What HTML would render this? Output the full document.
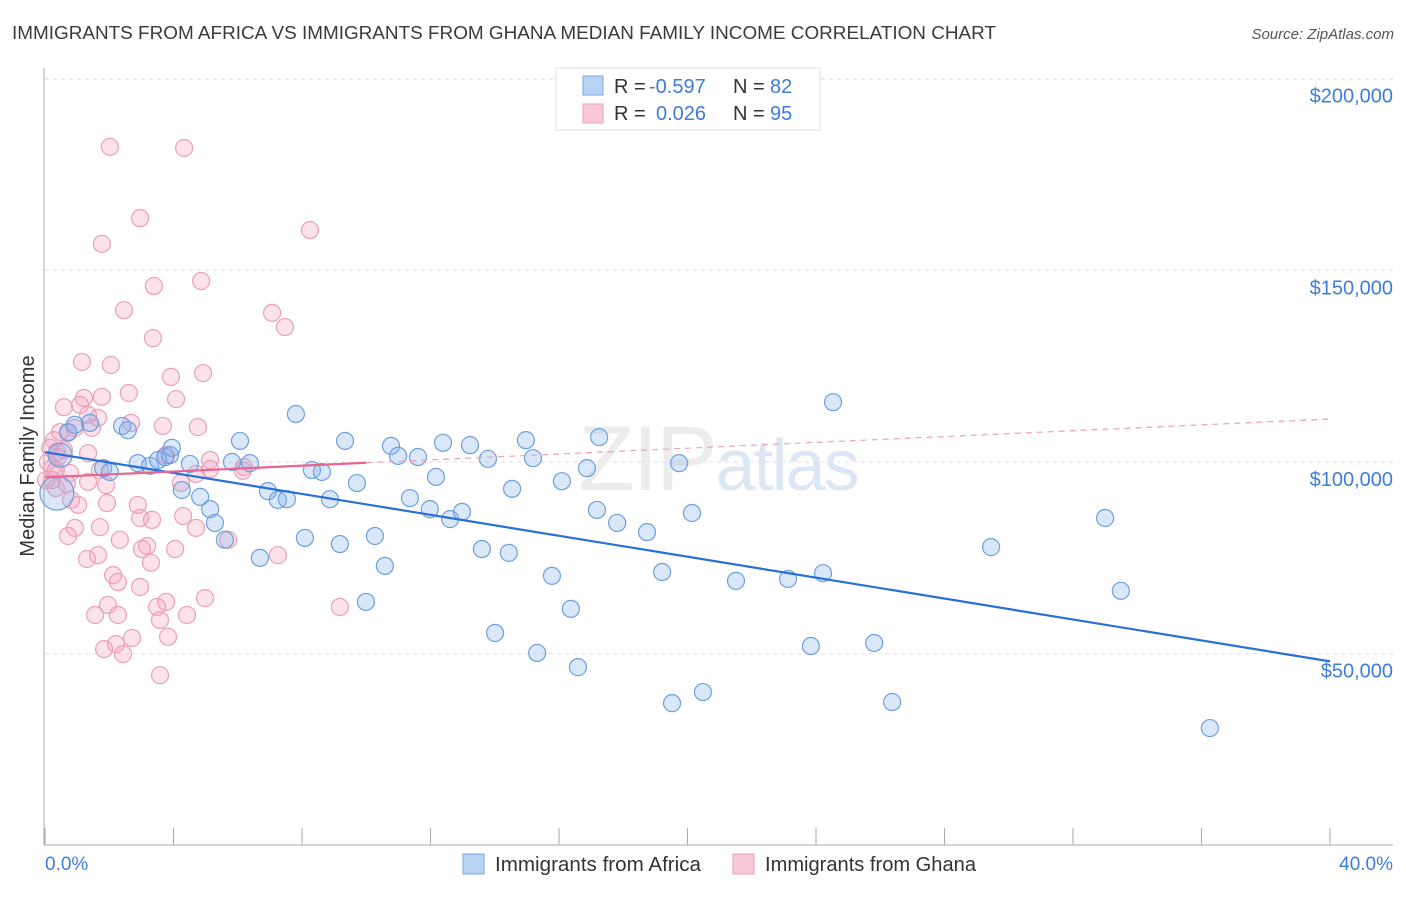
<!DOCTYPE html>
<html><head><meta charset="utf-8"><style>
body{margin:0;background:#fff;font-family:"Liberation Sans",sans-serif;}
svg text{font-family:"Liberation Sans",sans-serif;}
</style></head><body>
<svg id="chart" width="1406" height="892" xmlns="http://www.w3.org/2000/svg">
<text x="12" y="39" font-size="18" fill="#3a3a3a" textLength="984" lengthAdjust="spacingAndGlyphs">IMMIGRANTS FROM AFRICA VS IMMIGRANTS FROM GHANA MEDIAN FAMILY INCOME CORRELATION CHART</text>
<text x="1394" y="39" font-size="15" font-style="italic" fill="#555" text-anchor="end">Source: ZipAtlas.com</text>
<text transform="translate(34,456) rotate(-90)" font-size="20" fill="#333" text-anchor="middle">Median Family Income</text>
<g id="grid"></g>
<text x="718" y="490" font-size="92" fill="#ececec" text-anchor="middle" font-family="Liberation Serif" letter-spacing="-2">ZIP<tspan fill="#dce7f5" font-family="Liberation Sans" font-size="72">atlas</tspan></text>
<g id="axes"></g>
<g id="pts"></g>
<g id="trends"></g>
<g>
<rect x="556" y="68" width="264" height="62" fill="#fff" stroke="#ddd"/>
<rect x="583" y="76" width="20" height="19" fill="#b8d2f4" stroke="#7aa7e0"/>
<rect x="583" y="104" width="20" height="19" fill="#f9c8d7" stroke="#eaa0b8"/>
<text x="614" y="93" font-size="20" fill="#333">R =</text>
<text x="649" y="93" font-size="20" fill="#3d7dd8">-0.597</text>
<text x="733" y="93" font-size="20" fill="#333">N =</text>
<text x="770" y="93" font-size="20" fill="#3d7dd8">82</text>
<text x="614" y="120" font-size="20" fill="#333">R =</text>
<text x="656" y="120" font-size="20" fill="#3d7dd8">0.026</text>
<text x="733" y="120" font-size="20" fill="#333">N =</text>
<text x="770" y="120" font-size="20" fill="#3d7dd8">95</text>
</g>
<g>
<rect x="463" y="854" width="21" height="20" fill="#b8d2f4" stroke="#7aa7e0"/>
<text x="495" y="871" font-size="20" fill="#333" textLength="206" lengthAdjust="spacingAndGlyphs">Immigrants from Africa</text>
<rect x="733" y="854" width="21" height="20" fill="#f9c8d7" stroke="#eaa0b8"/>
<text x="765" y="871" font-size="20" fill="#333" textLength="211" lengthAdjust="spacingAndGlyphs">Immigrants from Ghana</text>
</g>
</svg>
<script>
const yTicks=[50000,100000,150000,200000];
const yTickLabels=["$50,000","$100,000","$150,000","$200,000"];
const xTickLabels=["0.0%","40.0%"];
const africaX=[0.37,0.47,0.72,0.93,1.40,1.81,2.02,2.40,2.58,2.89,3.27,3.52,3.74,3.89,3.95,4.26,4.51,4.83,5.14,5.29,5.60,5.82,6.07,6.38,6.69,6.94,7.25,7.53,7.81,8.09,8.31,8.62,8.87,9.18,9.34,9.71,9.99,10.27,10.58,10.77,10.99,11.61,11.36,11.98,12.17,12.39,12.61,12.98,13.23,13.60,13.79,14.01,14.44,14.54,14.97,15.19,15.32,15.78,16.09,16.37,16.59,16.87,17.18,17.25,17.81,18.74,19.21,19.52,19.74,20.14,20.48,21.51,23.13,23.84,24.22,24.53,25.81,26.37,29.45,33.00,33.49,36.26];
const africaY=[91.9,101.8,107.8,109.7,110.2,98.4,97.4,109.4,108.3,99.7,99.0,100.5,101.3,101.8,103.7,92.7,99.5,90.9,87.7,84.1,79.7,100.0,105.5,99.7,75.0,92.4,90.1,90.3,112.5,80.2,97.9,97.4,90.3,78.6,105.5,94.5,63.5,80.7,72.9,104.2,101.6,101.3,90.6,87.7,96.1,105.0,85.1,87.0,104.4,77.3,100.8,55.4,76.3,93.0,105.7,101.0,50.2,70.3,95.0,61.7,46.5,98.4,87.5,106.5,84.1,81.7,71.3,37.1,99.7,86.7,40.0,69.0,69.5,52.0,71.0,115.6,52.8,37.4,77.8,85.4,66.4,30.6];
const ghanaX=[2.02,4.33,2.96,8.25,1.77,4.86,3.39,2.46,7.07,7.47,3.36,1.15,2.05,3.92,4.92,4.08,2.61,1.21,1.77,0.59,1.09,1.34,1.65,2.68,0.93,3.67,4.76,0.47,0.28,0.72,1.46,0.16,0.37,0.59,1.34,0.22,0.34,0.78,3.77,6.19,4.70,6.16,0.03,0.68,1.34,1.90,4.23,5.14,0.81,1.03,1.93,2.89,4.30,2.96,4.70,0.93,1.71,0.72,2.33,3.18,5.70,4.05,3.02,1.31,1.65,7.25,2.12,2.27,2.96,3.30,4.98,3.77,1.96,3.49,1.56,2.27,3.58,4.42,9.18,3.83,2.71,2.21,1.84,2.43,3.58,0.22,0.34,1.71,5.14,0.09,0.40,3.33];
const ghanaY=[182.2,181.9,163.6,160.5,156.9,147.2,145.9,139.6,138.9,135.2,132.3,126.1,125.3,122.2,123.2,116.4,118.0,116.7,117.0,114.3,114.9,112.3,111.5,110.2,108.9,109.4,109.1,107.8,105.7,107.6,108.9,103.7,102.6,103.1,102.3,98.4,97.9,97.1,101.8,98.7,96.9,97.7,95.3,94.3,94.8,94.0,94.5,98.2,90.1,88.8,89.3,88.8,85.9,85.4,82.8,82.8,83.0,80.7,79.7,78.1,79.7,77.3,77.3,74.7,75.7,75.7,70.5,68.7,67.4,73.7,64.5,63.5,62.7,62.2,60.1,60.1,58.8,60.1,62.2,54.4,54.1,52.5,51.2,49.9,44.4,95.3,93.2,97.9,100.5,100.0,101.3,84.9];
const africaTrend=[102.6,48.0];
const ghanaTrend=[96.0,111.2];
const ghanaSolidEnd=10;

const NS="http://www.w3.org/2000/svg";
const xS=p=>45+p/40*1285;
const yS=v=>462-(v-100000)*191.7/50000;
const yK=k=>yS(k*1000);
function mk(tag,attrs,parent){const e=document.createElementNS(NS,tag);for(const k in attrs)e.setAttribute(k,attrs[k]);parent.appendChild(e);return e;}
const grid=document.getElementById('grid'),axes=document.getElementById('axes'),pts=document.getElementById('pts'),tr=document.getElementById('trends');
mk('line',{x1:45,x2:1393,y1:79,y2:79,stroke:'#ddd','stroke-dasharray':'4,4'},grid);
yTicks.forEach((t,i)=>{
  const g=mk('line',{x1:45,x2:1393,y1:yS(t),y2:yS(t),stroke:'#ddd','stroke-dasharray':'4,4'},grid);
  
  
  const tx=mk('text',{x:1393,y:yS(t)+24,'font-size':20,fill:'#3d7dd8','text-anchor':'end'},axes);
  tx.textContent=yTickLabels[i];
  
  
});
mk('line',{x1:44,x2:44,y1:68,y2:845,stroke:'#aaa'},axes);
mk('line',{x1:44,x2:1393,y1:845,y2:845,stroke:'#aaa'},axes);
for(let i=0;i<=10;i++){const t=mk('line',{x1:xS(i*4),x2:xS(i*4),y1:828,y2:845,stroke:'#aaa'},axes);
  
  }
const xl0=mk('text',{x:45,y:870,'font-size':19,fill:'#3d7dd8'},axes);xl0.textContent=xTickLabels[0];


const xl1=mk('text',{x:1393,y:870,'font-size':19,fill:'#3d7dd8','text-anchor':'end'},axes);xl1.textContent=xTickLabels[1];


ghanaX.forEach((x,i)=>{const c=mk('circle',{cx:xS(x),cy:yK(ghanaY[i]),r:8.5,fill:'rgba(244,160,188,0.3)',stroke:'#eba0b9','stroke-width':1.2},pts);
  
  });
africaX.forEach((x,i)=>{const c=mk('circle',{cx:xS(x),cy:yK(africaY[i]),r:i==0?17:(i==1?12:8.5),fill:'rgba(130,175,235,0.3)',stroke:'#6d9fe0','stroke-width':1.2},pts);
  
  });
const bl=mk('line',{x1:xS(0),y1:yK(africaTrend[0]),x2:xS(40),y2:yK(africaTrend[1]),stroke:'#2a6fd6','stroke-width':2.2},tr);


const gAt=p=>ghanaTrend[0]+(ghanaTrend[1]-ghanaTrend[0])*p/40;
const pl=mk('line',{x1:xS(0),y1:yK(gAt(0)),x2:xS(ghanaSolidEnd),y2:yK(gAt(ghanaSolidEnd)),stroke:'#e8648f','stroke-width':2.2},tr);


const pd=mk('line',{x1:xS(ghanaSolidEnd),y1:yK(gAt(ghanaSolidEnd)),x2:xS(40),y2:yK(gAt(40)),stroke:'#eea0b8','stroke-width':1.2,'stroke-dasharray':'6,5'},tr);


</script>
</body></html>
